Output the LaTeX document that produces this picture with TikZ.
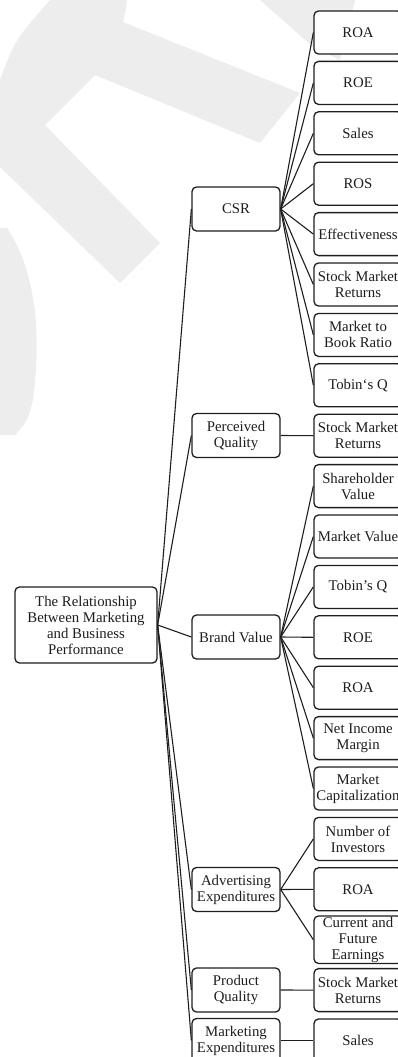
\documentclass[tikz,border=0pt]{standalone}
\usepackage{fontspec}
\setmainfont{Liberation Serif}
\definecolor{wm}{RGB}{237,237,237}
\definecolor{ink}{RGB}{30,30,30}
\begin{document}
\begin{tikzpicture}[x=1pt,y=-1pt,
  box/.style={draw=ink, line width=1.3pt, rounded corners=4.5pt, fill=white,
    minimum height=43pt, inner sep=1pt, align=center, text=ink,
    font=\fontsize{14.8}{16}\selectfont},
  mid/.style={box, minimum width=88pt, minimum height=44pt},
  leaf/.style={box, minimum width=88pt},
  rootbox/.style={box, minimum width=142pt, minimum height=76pt},
  link/.style={draw=ink, line width=1.1pt}]
\useasboundingbox (0,0) rectangle (398,1057);
% watermark
\fill[wm] (50,0) -- (127,0) .. controls (126,10) .. (123,22) -- (300,93) -- (260,143) -- (95,75) -- (45,125) -- (160,243) -- (120,283) -- (0,167) -- (0,80) .. controls (15,40) .. (50,0) -- cycle;
\fill[wm] (0,228) -- (7,228) .. controls (35,270) and (42,330) .. (33,400) .. controls (28,420) .. (15,435) -- (0,435) -- cycle;
\fill[wm] (260,0) -- (355,0) -- (340,60) -- (313,47) -- cycle;
% root
\node[rootbox] (root) at (86,625) {The Relationship\\Between Marketing\\and Business\\Performance};
% middle
\node[mid] (csr) at (236,209) {CSR};
\node[mid] (pq) at (236,435.5) {Perceived\\Quality};
\node[mid] (bv) at (236,637) {Brand Value};
\node[mid] (ae) at (236,889.5) {Advertising\\Expenditures};
\node[mid] (prq) at (236,990) {Product\\Quality};
\node[mid] (me) at (236,1040.5) {Marketing\\Expenditures};
% leaves
\node[leaf] (l1) at (358,32.5) {ROA};
\node[leaf] (l2) at (358,82.9) {ROE};
\node[leaf] (l3) at (358,133.3) {Sales};
\node[leaf] (l4) at (358,183.7) {ROS};
\node[leaf] (l5) at (358,234.1) {Effectiveness};
\node[leaf] (l6) at (358,284.5) {Stock Market\\Returns};
\node[leaf] (l7) at (358,334.9) {Market to\\Book Ratio};
\node[leaf] (l8) at (358,385.3) {Tobin‘s Q};
\node[leaf] (l9) at (358,435.7) {Stock Market\\Returns};
\node[leaf] (l10) at (358,486.1) {Shareholder\\Value};
\node[leaf] (l11) at (358,536.5) {Market Value};
\node[leaf] (l12) at (358,586.9) {Tobin’s Q};
\node[leaf] (l13) at (358,637.3) {ROE};
\node[leaf] (l14) at (358,687.7) {ROA};
\node[leaf] (l15) at (358,738.1) {Net Income\\Margin};
\node[leaf] (l16) at (358,788.5) {Market\\Capitalization};
\node[leaf] (l17) at (358,838.9) {Number of\\Investors};
\node[leaf] (l18) at (358,889.3) {ROA};
\node[leaf] (l19) at (358,939.7) {Current and\\Future\\Earnings};
\node[leaf] (l20) at (358,990.1) {Stock Market\\Returns};
\node[leaf] (l21) at (358,1040.5) {Sales};
% connectors root -> middle
\foreach \m in {csr,pq,bv,ae,prq,me} \draw[link] (root.east) -- (\m.west);
% middle -> leaves
\foreach \l in {1,...,8} \draw[link] (csr.east) -- (l\l.west);
\draw[link] (pq.east) -- (l9.west);
\foreach \l in {10,...,16} \draw[link] (bv.east) -- (l\l.west);
\foreach \l in {17,18,19} \draw[link] (ae.east) -- (l\l.west);
\draw[link] (prq.east) -- (l20.west);
\draw[link] (me.east) -- (l21.west);
\end{tikzpicture}
\end{document}
